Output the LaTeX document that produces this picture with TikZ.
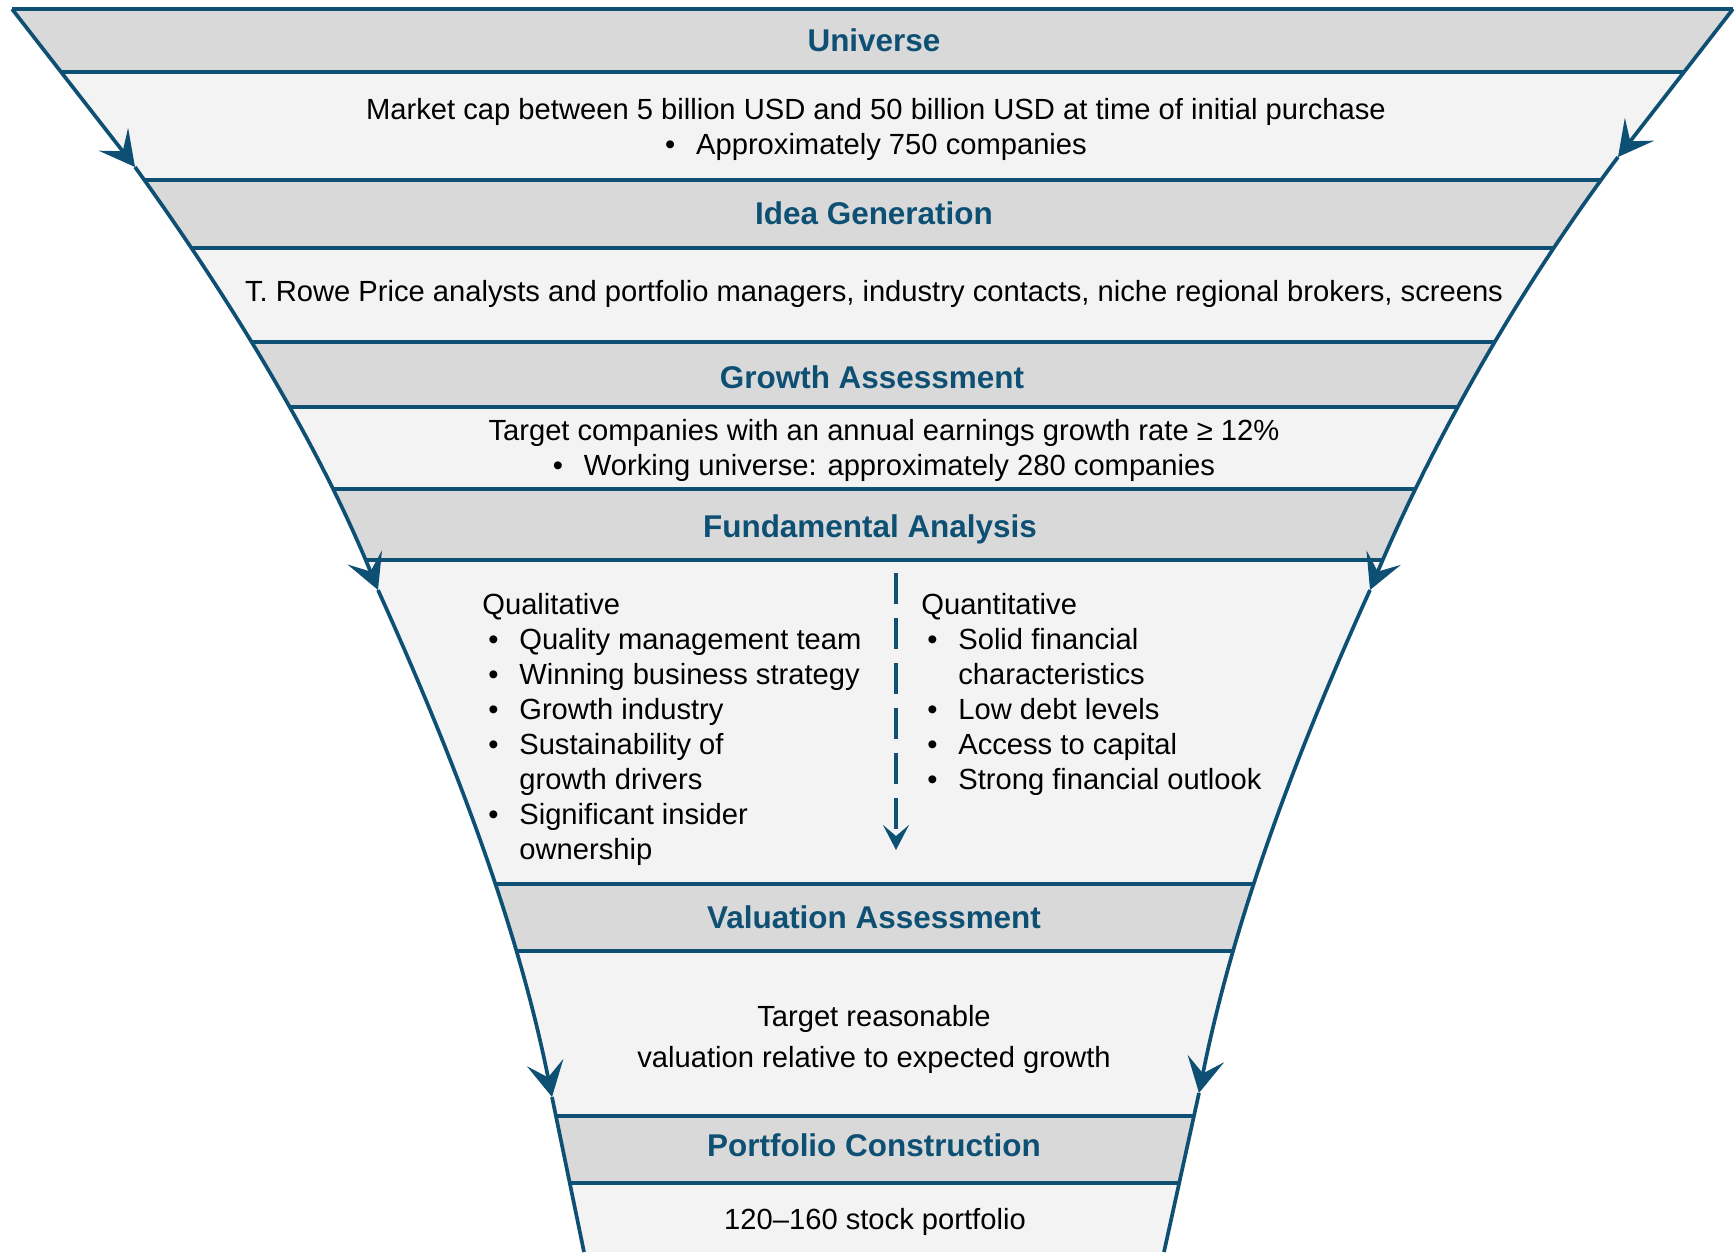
\documentclass[tikz,border=0pt]{standalone}
\usepackage{fontspec}
\setmainfont{Liberation Sans}
\usetikzlibrary{arrows.meta}

\definecolor{funnelblue}{RGB}{14,80,116}
\definecolor{headgray}{RGB}{217,217,217}
\definecolor{bodygray}{RGB}{243,243,243}

\newcommand{\bodyfont}{\fontsize{16.6pt}{19.9pt}\selectfont}
\newcommand{\headfont}{\fontsize{17.9pt}{21pt}\selectfont\bfseries}
\newcommand{\blt}{\makebox[0.62cm][l]{•}}
\newcommand{\qitem}{\hspace*{0.12cm}\blt}
\newcommand{\qcont}{\hspace*{0.74cm}}

\begin{document}
\begin{tikzpicture}[x=0.02cm, y=-0.02cm]

\tikzset{StageTitle/.style={text=funnelblue, font=\headfont, text height=0.72em, text depth=0pt, inner sep=0pt},
         StageText/.style={font=\bodyfont, align=center, inner sep=0pt},
         BandLine/.style={draw=funnelblue, line width=1.9pt}}

\useasboundingbox (0,0) rectangle (1735,1252);

% Funnel corners and arrow tips
\coordinate (L0) at (12,9);
\coordinate (L1) at (135,167);
\coordinate (L2) at (378,590);
\coordinate (L3) at (552,1097);
\coordinate (L4) at (584,1252);
\coordinate (R0) at (1733,9);
\coordinate (R1) at (1618,157);
\coordinate (R2) at (1370,590);
\coordinate (R3) at (1199,1093);
\coordinate (R4) at (1164,1252);

% Bands inside the funnel
\begin{scope}
    \clip (L0) -- (L1) .. controls +(101,140) and +(-57,-140) .. (L2)
          .. controls +(77,170) and +(-34,-170) .. (L3) -- (L4) -- (R4) -- (R3)
          .. controls +(34,-170) and +(-77,170) .. (R2)
          .. controls +(59,-140) and +(-105,140) .. (R1) -- (R0) -- cycle;
    \fill[bodygray] (0,0) rectangle (1735,1252);
    \foreach \top/\bot in {9/72, 180/248, 342/407, 489/560, 884/951, 1116/1183}
        \fill[headgray] (0,\top) rectangle (1735,\bot);
    \foreach \y in {72, 180, 248, 342, 407, 489, 560, 884, 951, 1116, 1183}
        \draw[BandLine] (0,\y) -- (1735,\y);
\end{scope}

% Funnel outline
\begin{scope}[>={Stealth[length=0.7cm, width=0.74cm, inset=0.3cm]},
              color=funnelblue, line width=2.1pt]
    \draw (L0) -- (R0);
    \draw [->] (L0) -- (L1);
    \draw [->] (L1) .. controls +(101,140) and +(-57,-140) .. (L2);
    \draw [->] (L2) .. controls +(77,170) and +(-34,-170) .. (L3);
    \draw (L3) -- (L4);
    \draw [->] (R0) -- (R1);
    \draw [->] (R1) .. controls +(-105,140) and +(59,-140) .. (R2);
    \draw [->] (R2) .. controls +(-77,170) and +(34,-170) .. (R3);
    \draw (R3) -- (R4);
\end{scope}

% Stage titles
\node (U) at (874,45.5) [StageTitle] {Universe};
\node (I) at (874,218.5) [StageTitle] {Idea Generation};
\node (G) at (872,382.5) [StageTitle] {Growth Assessment};
\node (F) at (870,531.5) [StageTitle] {Fundamental Analysis};
\node (V) at (874,922.5) [StageTitle] {Valuation Assessment};
\node (P) at (874,1150.5) [StageTitle] {Portfolio Construction};

% Stage texts
\node (Ut) at (876,98) [StageText, anchor=north]
    {Market cap between 5 billion USD and 50 billion USD at time of initial purchase\\ \blt Approximately 750 companies};
\node (It) at (874,295.5) [StageText, text height=0.72em, text depth=0pt]
    {T. Rowe Price analysts and portfolio managers, industry contacts, niche regional brokers, screens};
\node (Gt) at (884,419) [StageText, anchor=north]
    {Target companies with an annual earnings growth rate ≥ 12\%\\ \blt Working universe: approximately 280 companies};
\node (Ql) at (482,593) [StageText, anchor=north west, align=left]
    {Qualitative\\ \qitem Quality management team\\ \qitem Winning business strategy\\ \qitem Growth industry\\
     \qitem Sustainability of\\ \qcont growth drivers\\ \qitem Significant insider\\ \qcont ownership};
\node (Qn) at (921,593) [StageText, anchor=north west, align=left]
    {Quantitative\\ \qitem Solid financial\\ \qcont characteristics\\ \qitem Low debt levels\\
     \qitem Access to capital\\ \qitem Strong financial outlook};
\node (Vt) at (874,1005) [StageText, anchor=north]
    {Target reasonable\\[0.12cm] valuation relative to expected growth};
\node (Pt) at (875,1223.5) [StageText, text height=0.72em, text depth=0pt] {120–160 stock portfolio};

% Qualitative to quantitative
\coordinate (Dt) at (896,573);
\coordinate (Db) at (896,850);
\draw [funnelblue, line width=1.8pt, dash pattern=on 0.62cm off 0.28cm,
       -{Stealth[length=0.5cm, width=0.52cm, inset=0.22cm]}] (Dt) -- (Db);

\end{tikzpicture}
\end{document}
